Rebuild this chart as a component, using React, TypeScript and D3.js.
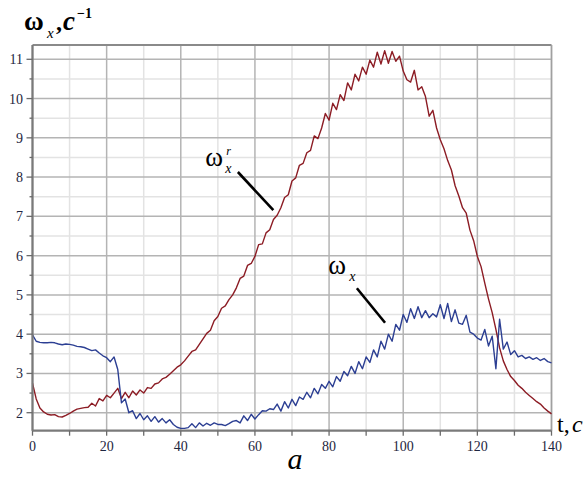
import React from 'react';
import * as d3 from 'd3';

const times: number[] = d3.range(0, 141);

const omegaR: number[] = [
  2.75, 2.35, 2.12, 2.02, 1.96, 1.94, 1.95, 1.90, 1.89, 1.93,
  1.98, 2.04, 2.09, 2.11, 2.13, 2.14, 2.24, 2.17, 2.36, 2.30,
  2.44, 2.38, 2.50, 2.62, 2.36, 2.52, 2.38, 2.55, 2.45, 2.58,
  2.50, 2.64, 2.62, 2.73, 2.76, 2.86, 2.90, 2.98, 3.07, 3.16,
  3.22, 3.32, 3.44, 3.56, 3.60, 3.74, 3.88, 4.02, 4.10, 4.34,
  4.45, 4.66, 4.72, 4.88, 5.00, 5.18, 5.42, 5.48, 5.75, 5.80,
  5.98, 6.28, 6.30, 6.58, 6.66, 6.92, 7.03, 7.22, 7.48, 7.55,
  7.90, 7.98, 8.30, 8.35, 8.62, 8.68, 9.05, 8.98, 9.25, 9.62,
  9.45, 9.88, 9.72, 10.10, 9.95, 10.40, 10.22, 10.62, 10.45, 10.80,
  10.62, 10.98, 10.80, 11.18, 10.88, 11.22, 10.90, 11.20, 10.95, 11.08,
  10.70, 10.48, 10.42, 10.72, 10.22, 10.30, 10.05, 9.55, 9.70, 9.25,
  8.95, 8.72, 8.42, 8.18, 7.78, 7.52, 7.22, 7.08, 6.65, 6.38,
  5.98, 5.72, 5.30, 4.90, 4.55, 4.12, 3.65, 3.32, 3.10, 2.92,
  2.82, 2.70, 2.62, 2.52, 2.44, 2.36, 2.28, 2.22, 2.12, 2.04,
  1.97,
];

const omegaX: number[] = [
  3.98, 3.82, 3.79, 3.78, 3.78, 3.79, 3.78, 3.75, 3.73, 3.75,
  3.74, 3.72, 3.69, 3.68, 3.66, 3.62, 3.58, 3.60, 3.52, 3.45,
  3.40, 3.30, 3.42, 3.10, 2.25, 2.35, 2.00, 2.05, 1.85, 1.98,
  1.82, 1.92, 1.78, 1.90, 1.76, 1.85, 1.74, 1.82, 1.70, 1.63,
  1.60, 1.60, 1.62, 1.72, 1.62, 1.74, 1.66, 1.73, 1.68, 1.74,
  1.70, 1.70, 1.67, 1.72, 1.78, 1.80, 1.74, 1.92, 1.80, 1.96,
  1.84, 1.95, 2.05, 2.04, 2.10, 2.08, 2.22, 2.04, 2.28, 2.12,
  2.34, 2.18, 2.40, 2.34, 2.52, 2.38, 2.62, 2.48, 2.72, 2.62,
  2.80, 2.66, 2.92, 2.80, 3.05, 2.94, 3.18, 3.00, 3.30, 3.12,
  3.42, 3.28, 3.60, 3.42, 3.82, 3.62, 4.00, 3.82, 4.25, 4.10,
  4.50, 4.30, 4.65, 4.40, 4.70, 4.42, 4.60, 4.42, 4.52, 4.44,
  4.75, 4.40, 4.78, 4.32, 4.62, 4.28, 4.25, 4.48, 4.05, 4.00,
  3.90, 3.85, 4.12, 3.70, 3.95, 3.12, 4.38, 3.62, 3.80, 3.48,
  3.58, 3.42, 3.46, 3.38, 3.42, 3.36, 3.40, 3.33, 3.38, 3.30,
  3.27,
];

const xTicks: number[] = [0, 20, 40, 60, 80, 100, 120, 140];
const xMinor: number[] = [10, 30, 50, 70, 90, 110, 130];
const yTicks: number[] = [2, 3, 4, 5, 6, 7, 8, 9, 10, 11];
const yMinor: number[] = [2.5, 3.5, 4.5, 5.5, 6.5, 7.5, 8.5, 9.5, 10.5];

// annotation anchors in data units: [label t, label v, line t1, v1, t2, v2]
const annotR: number[] = [46.6, 8.28, 55.4, 8.13, 64.96, 7.16];
const annotX: number[] = [79.8, 5.53, 87.5, 5.17, 95.1, 4.29];

const RED = '#8c1c24';
const BLUE = '#2c3f93';
const SERIF = "'Liberation Serif', 'Times New Roman', serif";

export default function App() {
  const W = 586, H = 495;
  const x = d3.scaleLinear().domain([0, 140]).range([32.5, 551.5]);
  const y = d3.scaleLinear().domain([2, 11]).range([412.7, 59.3]);
  const yBot = 430.7, yTop = 45;
  const xL = x(0), xR = x(140);

  const line = d3.line<number>().x((_, i) => x(times[i])).y(d => y(d));

  return (
    <svg width={W} height={H} style={{ position: 'absolute', left: 0, top: 0, background: '#fff' }}>
      {/* minor grid */}
      {xMinor.map(t => (
        <line key={'xm' + t} x1={x(t)} x2={x(t)} y1={yTop} y2={yBot} stroke="#e3e3e3" strokeWidth={1.5} />
      ))}
      {yMinor.map(v => (
        <line key={'ym' + v} x1={xL} x2={xR} y1={y(v)} y2={y(v)} stroke="#e3e3e3" strokeWidth={1.5} />
      ))}
      {/* major grid */}
      {xTicks.map(t => (
        <line key={'xg' + t} x1={x(t)} x2={x(t)} y1={yTop} y2={yBot} stroke="#b4b4b4" strokeWidth={1.5} />
      ))}
      {yTicks.map(v => (
        <line key={'yg' + v} x1={xL} x2={xR} y1={y(v)} y2={y(v)} stroke="#b4b4b4" strokeWidth={1.5} />
      ))}
      {/* frame top */}
      <line x1={xL} x2={xR} y1={yTop} y2={yTop} stroke="#8a8a8a" strokeWidth={2} />
      <line x1={xR} x2={xR} y1={yTop} y2={yBot} stroke="#a0a0a0" strokeWidth={1.5} />

      {/* series */}
      <path d={line(omegaR) || ''} fill="none" stroke={RED} strokeWidth={1.4} strokeLinejoin="round" />
      <path d={line(omegaX) || ''} fill="none" stroke={BLUE} strokeWidth={1.4} strokeLinejoin="round" />

      {/* axes */}
      <line x1={xL} x2={xL} y1={yTop} y2={yBot} stroke="#7a7a7a" strokeWidth={2.2} />
      <line x1={xL} x2={xR} y1={yBot} y2={yBot} stroke="#7a7a7a" strokeWidth={2.2} />
      {yTicks.map(v => (
        <line key={'yt' + v} x1={xL - 6} x2={xL} y1={y(v)} y2={y(v)} stroke="#6a6a6a" strokeWidth={1.3} />
      ))}
      {yMinor.map(v => (
        <line key={'ytm' + v} x1={xL - 3} x2={xL} y1={y(v)} y2={y(v)} stroke="#6a6a6a" strokeWidth={1.3} />
      ))}
      {xTicks.concat(xMinor).map(t => (
        <line key={'xt' + t} x1={x(t)} x2={x(t)} y1={yBot} y2={yBot + 5} stroke="#6a6a6a" strokeWidth={1.3} />
      ))}
      {yTicks.map(v => (
        <text key={'yl' + v} x={23} y={y(v) + 5} textAnchor="end" fontFamily={SERIF} fontSize={14} fill="#1e2640">{v}</text>
      ))}
      {xTicks.map(t => (
        <text key={'xl' + t} x={x(t)} y={451} textAnchor="middle" fontFamily={SERIF} fontSize={14} fill="#1e2640">{t}</text>
      ))}

      {/* axis titles */}
      <g fontFamily={SERIF} fill="#000">
        <text x={24} y={30} fontSize={27} fontWeight="bold">ω</text>
        <text x={47} y={38} fontSize={15} fontStyle="italic">x</text>
        <text x={56} y={30} fontSize={24} fontWeight="bold">,</text>
        <text x={63} y={30} fontSize={27} fontStyle="italic" fontWeight="bold">c</text>
        <text x={77} y={18} fontSize={14} fontWeight="bold">−1</text>

        <text x={557} y={432} fontSize={24}>t,</text>
        <text x={572} y={432} fontSize={24} fontStyle="italic">c</text>

        <text x={295} y={469} fontSize={30} fontStyle="italic" textAnchor="middle">a</text>
      </g>

      {/* annotations */}
      <g fontFamily={SERIF} fill="#000">
        <text x={x(annotR[0])} y={y(annotR[1])} fontSize={27}>ω</text>
        <text x={x(annotR[0]) + 20} y={y(annotR[1]) + 7} fontSize={14} fontStyle="italic">x</text>
        <text x={x(annotR[0]) + 21} y={y(annotR[1]) - 11} fontSize={12} fontStyle="italic">r</text>
        <line x1={x(annotR[2])} y1={y(annotR[3])} x2={x(annotR[4])} y2={y(annotR[5])} stroke="#000" strokeWidth={2.6} />

        <text x={x(annotX[0])} y={y(annotX[1])} fontSize={27}>ω</text>
        <text x={x(annotX[0]) + 21} y={y(annotX[1]) + 7} fontSize={14} fontStyle="italic">x</text>
        <line x1={x(annotX[2])} y1={y(annotX[3])} x2={x(annotX[4])} y2={y(annotX[5])} stroke="#000" strokeWidth={2.6} />
      </g>
    </svg>
  );
}
